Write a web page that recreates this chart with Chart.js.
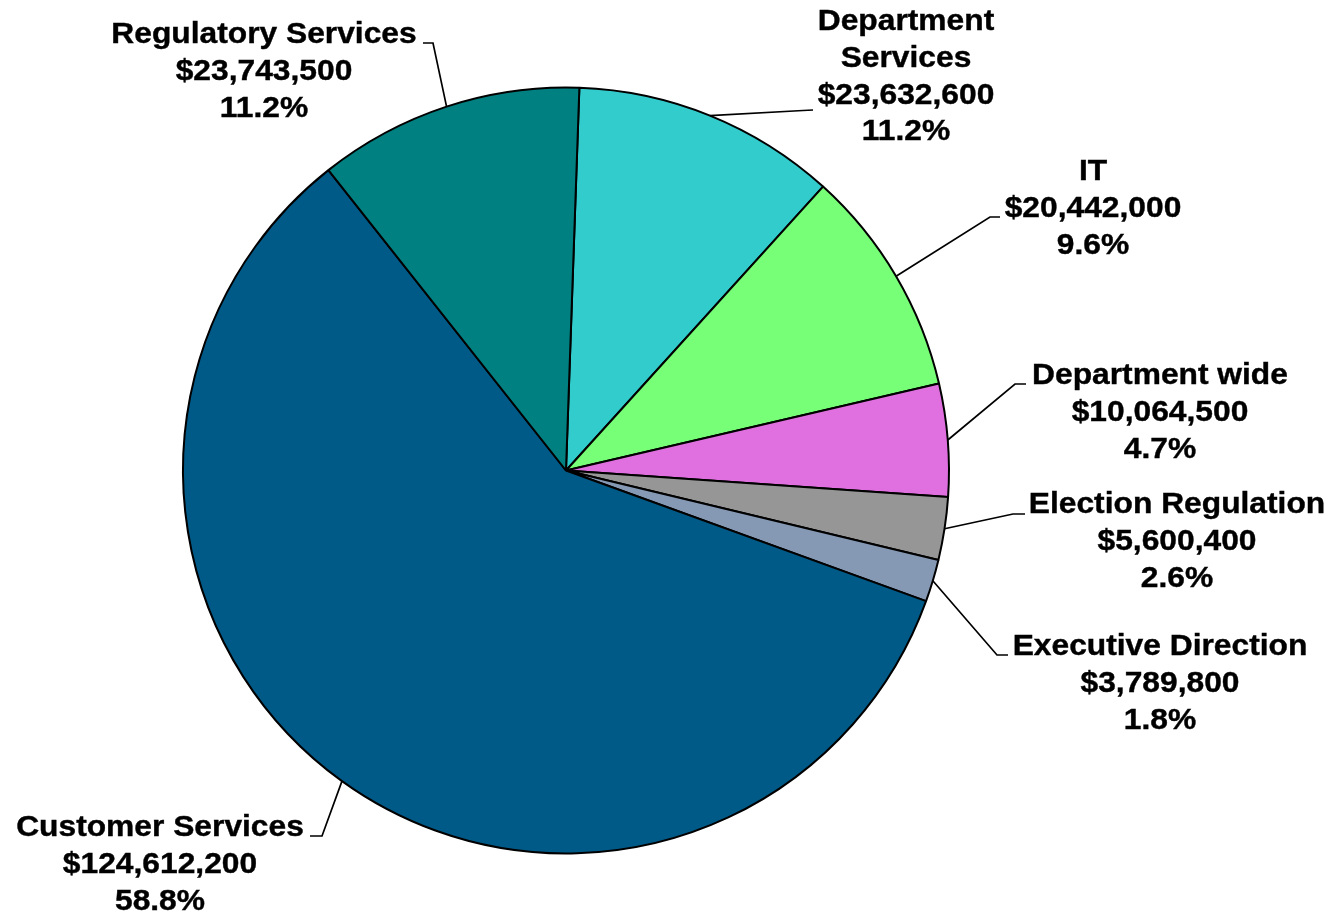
<!DOCTYPE html>
<html>
<head>
<meta charset="utf-8">
<script src="https://cdn.jsdelivr.net/npm/chart.js@4/dist/chart.umd.min.js"></script>
<style>
html,body{margin:0;padding:0;background:#fff;}
canvas{display:block;}
</style>
</head>
<body>
<canvas id="c" width="1336" height="913"></canvas>
<script>
const categories = ["Department Services", "IT", "Department wide", "Election Regulation", "Executive Direction", "Customer Services", "Regulatory Services"];
const labelLines = [["Department", "Services"], ["IT"], ["Department wide"], ["Election Regulation"], ["Executive Direction"], ["Customer Services"], ["Regulatory Services"]];
const amounts = [23632600, 20442000, 10064500, 5600400, 3789800, 124612200, 23743500];
const percents = ["11.2%", "9.6%", "4.7%", "2.6%", "1.8%", "58.8%", "11.2%"];
const colors = ["#33CCCC", "#77FF77", "#E070E0", "#969696", "#8599B5", "#005A87", "#008080"];

// label layout: text block centre x, first line centre y, leader elbow, leader end
const labelLayout = [
  {x: 906, y: 22, elbow: [803, 110.5], end: [813, 110]},
  {x: 1093, y: 172, elbow: [990, 217], end: [1000, 217]},
  {x: 1160, y: 376, elbow: [1015, 384], end: [1026, 384]},
  {x: 1177, y: 505, elbow: [1013, 514], end: [1025, 514]},
  {x: 1160, y: 647, elbow: [997, 655], end: [1008, 655]},
  {x: 160, y: 828, elbow: [322, 836], end: [310, 836]},
  {x: 264, y: 35, elbow: [433, 43], end: [423, 43]}
];

function fmtMoney(v){ return "$" + v.toLocaleString("en-US"); }

const labelPlugin = {
  id: "pieLabels",
  afterDraw(chart){
    const ctx = chart.ctx;
    const meta = chart.getDatasetMeta(0);
    ctx.save();
    meta.data.forEach((arc, i) => {
      const p = arc.getProps(["x","y","startAngle","endAngle","outerRadius"], true);
      const mid = (p.startAngle + p.endAngle) / 2;
      const ax = p.x + Math.cos(mid) * p.outerRadius;
      const ay = p.y + Math.sin(mid) * p.outerRadius;
      const L = labelLayout[i];
      ctx.beginPath();
      ctx.strokeStyle = "#000";
      ctx.lineWidth = 1.7;
      ctx.moveTo(ax, ay);
      ctx.lineTo(L.elbow[0], L.elbow[1]);
      ctx.lineTo(L.end[0], L.end[1]);
      ctx.stroke();
      const lines = labelLines[i].concat([fmtMoney(amounts[i]), percents[i]]);
      ctx.fillStyle = "#000";
      ctx.strokeStyle = "#000";
      ctx.lineWidth = 0.4;
      ctx.font = "bold 29px 'Liberation Sans', Arial, sans-serif";
      ctx.textAlign = "center";
      ctx.textBaseline = "middle";
      lines.forEach((t, k) => {
        ctx.save();
        ctx.translate(L.x, L.y + k * 36.8);
        ctx.scale(1.095, 1);
        ctx.fillText(t, 0, 0);
        ctx.strokeText(t, 0, 0);
        ctx.restore();
      });
    });
    ctx.restore();
  }
};

new Chart(document.getElementById("c"), {
  type: "pie",
  data: {
    labels: categories,
    datasets: [{
      data: amounts,
      backgroundColor: colors,
      borderColor: "#000",
      borderWidth: 2,
      rotation: 2
    }]
  },
  options: {
    responsive: false,
    animation: false,
    layout: {padding: {left: 182, right: 386, top: 86, bottom: 58}},
    plugins: {legend: {display: false}, tooltip: {enabled: false}}
  },
  plugins: [labelPlugin]
});
</script>
</body>
</html>
